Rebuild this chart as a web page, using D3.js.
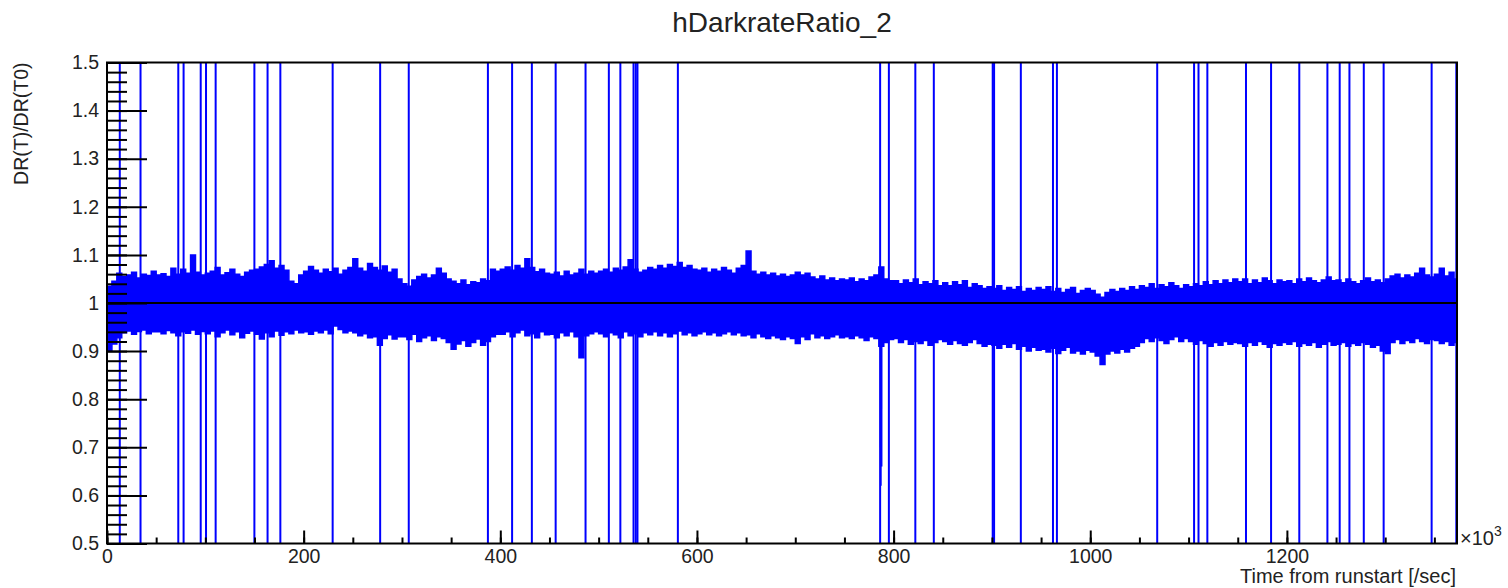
<!DOCTYPE html>
<html>
<head>
<meta charset="utf-8">
<script src="https://cdn.jsdelivr.net/npm/d3@7"></script>
<style>
  body { margin: 0; background: #fff; }
  text { font-family: "Liberation Sans", Arial, sans-serif; fill: #222; }
</style>
</head>
<body>
<svg width="1508" height="588"></svg>
<script>
// histogram range and bin width (x in units of 10^3 sec)
var xMax = 1373;
var binWidth = 5;

// upper / lower envelope of the noisy band, one value per bin
var upperEnv = [
  1.035,1.045,1.062,1.055,1.058,1.064,1.052,1.060,1.057,1.066,
  1.058,1.061,1.055,1.072,1.060,1.070,1.062,1.100,1.064,1.058,
  1.062,1.066,1.074,1.058,1.063,1.070,1.060,1.055,1.064,1.068,
  1.070,1.075,1.080,1.088,1.072,1.078,1.068,1.045,1.040,1.058,
  1.066,1.076,1.068,1.062,1.070,1.065,1.072,1.060,1.068,1.074,
  1.092,1.072,1.066,1.082,1.074,1.068,1.077,1.064,1.070,1.050,
  1.040,1.035,1.048,1.055,1.060,1.052,1.058,1.072,1.062,1.050,
  1.045,1.040,1.048,1.038,1.044,1.042,1.050,1.046,1.070,1.066,
  1.070,1.075,1.068,1.078,1.072,1.092,1.074,1.065,1.070,1.062,
  1.060,1.064,1.056,1.066,1.058,1.062,1.070,1.060,1.066,1.062,
  1.066,1.070,1.064,1.072,1.068,1.075,1.090,1.070,1.064,1.068,
  1.074,1.070,1.078,1.072,1.080,1.076,1.084,1.074,1.078,1.070,
  1.068,1.072,1.064,1.070,1.066,1.074,1.068,1.062,1.072,1.078,
  1.108,1.066,1.060,1.064,1.058,1.062,1.056,1.060,1.055,1.058,
  1.064,1.058,1.062,1.054,1.050,1.056,1.048,1.052,1.046,1.050,
  1.048,1.052,1.044,1.050,1.046,1.054,1.058,1.075,1.050,1.046,
  1.046,1.040,1.048,1.042,1.050,1.038,1.044,1.040,1.046,1.036,
  1.042,1.036,1.044,1.038,1.046,1.032,1.040,1.036,1.030,1.034,
  1.030,1.036,1.026,1.032,1.028,1.034,1.024,1.030,1.026,1.032,
  1.028,1.034,1.024,1.030,1.022,1.028,1.032,1.020,1.026,1.030,
  1.026,1.018,1.012,1.022,1.028,1.024,1.030,1.026,1.034,1.028,
  1.036,1.032,1.040,1.030,1.038,1.034,1.042,1.036,1.030,1.038,
  1.034,1.040,1.036,1.044,1.038,1.046,1.040,1.048,1.042,1.050,
  1.044,1.050,1.040,1.048,1.042,1.052,1.046,1.040,1.048,1.044,
  1.046,1.040,1.050,1.044,1.052,1.046,1.042,1.048,1.054,1.046,
  1.048,1.042,1.050,1.044,1.040,1.046,1.052,1.044,1.048,1.042,
  1.050,1.056,1.060,1.052,1.058,1.054,1.062,1.072,1.058,1.054,
  1.060,1.072,1.056,1.064,1.050
];
var lowerEnv = [
  0.900,0.915,0.928,0.938,0.942,0.935,0.941,0.944,0.936,0.940,
  0.940,0.936,0.943,0.938,0.932,0.940,0.937,0.944,0.935,0.941,
  0.936,0.942,0.930,0.938,0.944,0.934,0.940,0.928,0.937,0.942,
  0.935,0.925,0.938,0.930,0.942,0.933,0.940,0.936,0.944,0.938,
  0.940,0.935,0.942,0.938,0.944,0.936,0.952,0.945,0.938,0.942,
  0.938,0.932,0.936,0.928,0.930,0.912,0.926,0.934,0.925,0.930,
  0.930,0.924,0.935,0.920,0.928,0.932,0.922,0.930,0.926,0.918,
  0.904,0.915,0.922,0.910,0.918,0.925,0.912,0.920,0.930,0.935,
  0.935,0.940,0.930,0.938,0.944,0.932,0.936,0.928,0.940,0.934,
  0.935,0.928,0.938,0.932,0.940,0.930,0.886,0.932,0.936,0.940,
  0.936,0.930,0.938,0.934,0.928,0.940,0.932,0.936,0.930,0.938,
  0.934,0.940,0.932,0.938,0.930,0.936,0.942,0.934,0.938,0.932,
  0.936,0.940,0.934,0.938,0.932,0.936,0.940,0.934,0.938,0.932,
  0.934,0.928,0.936,0.930,0.926,0.932,0.928,0.924,0.930,0.926,
  0.916,0.930,0.924,0.936,0.928,0.932,0.926,0.930,0.934,0.928,
  0.930,0.926,0.932,0.928,0.922,0.930,0.926,0.910,0.918,0.924,
  0.926,0.918,0.924,0.914,0.920,0.916,0.922,0.912,0.918,0.924,
  0.920,0.914,0.922,0.916,0.912,0.918,0.924,0.916,0.910,0.914,
  0.912,0.906,0.914,0.908,0.916,0.904,0.910,0.900,0.908,0.902,
  0.904,0.898,0.906,0.895,0.902,0.908,0.896,0.900,0.894,0.902,
  0.898,0.890,0.872,0.894,0.900,0.896,0.904,0.898,0.906,0.910,
  0.918,0.926,0.920,0.928,0.922,0.916,0.924,0.930,0.920,0.926,
  0.920,0.914,0.922,0.916,0.910,0.918,0.912,0.920,0.914,0.918,
  0.916,0.910,0.918,0.912,0.920,0.914,0.908,0.916,0.912,0.918,
  0.914,0.920,0.910,0.916,0.912,0.918,0.908,0.914,0.920,0.912,
  0.914,0.918,0.910,0.916,0.912,0.918,0.914,0.908,0.912,0.900,
  0.895,0.918,0.924,0.916,0.922,0.918,0.926,0.920,0.916,0.924,
  0.922,0.916,0.920,0.912,0.918
];

// bins that leave the frame (dead / overflow bins)
var spikeTimes = [13.0, 34.1, 72.5, 77.9, 95.3, 100.7, 110.5, 149.9, 163.3, 176.3,
  229.5, 277.8, 306.9, 387.4, 412.0, 432.1, 456.3, 486.7, 510.4, 522.1,
  535.5, 537.8, 539.5, 580.6, 786.3, 795.2, 822.1, 840.9, 900.8, 902.2,
  929.4, 962.1, 966.1, 1068.1, 1105.6, 1110.1, 1119.1, 1158.4, 1183.9, 1212.6,
  1241.2, 1253.7, 1263.6, 1278.2, 1298.4, 1347.2, 1372.3];

// low bins near 790
var dipTimes = [786.8, 787.1, 787.5, 787.9];
var dipValues = [0.70, 0.62, 0.78, 0.66];

var xMajorTicks = [0, 200, 400, 600, 800, 1000, 1200];
var yTickLabels = ["0.5", "0.6", "0.7", "0.8", "0.9", "1", "1.1", "1.2", "1.3", "1.4", "1.5"];

var svg = d3.select("svg");
var plotL = 107, plotR = 1457, plotT = 62.5, plotB = 543.5;

var x = d3.scaleLinear().domain([0, xMax]).range([plotL, plotR]);
var y = d3.scaleLinear().domain([0.5, 1.5]).range([plotB, plotT]);

svg.append("defs").append("clipPath").attr("id", "plot")
  .append("rect")
  .attr("x", plotL).attr("y", plotT)
  .attr("width", plotR - plotL).attr("height", plotB - plotT);

var g = svg.append("g").attr("clip-path", "url(#plot)");

// band
var pts = upperEnv.map(function(u, i) {
  return { t: i * binWidth, hi: u, lo: lowerEnv[i] };
});
pts.push({ t: xMax, hi: upperEnv[upperEnv.length - 1], lo: lowerEnv[lowerEnv.length - 1] });

var band = d3.area()
  .x(function(d) { return x(d.t); })
  .y0(function(d) { return y(d.lo); })
  .y1(function(d) { return y(d.hi); })
  .curve(d3.curveStepAfter);

g.append("path")
  .datum(pts)
  .attr("d", band)
  .attr("fill", "#0000ff")
  .attr("stroke", "#0000ff")
  .attr("stroke-width", 1.5)
  .attr("stroke-linejoin", "miter");

// spikes
g.selectAll(".spike")
  .data(spikeTimes)
  .enter()
  .append("line")
  .attr("class", "spike")
  .attr("x1", function(d) { return x(d); })
  .attr("x2", function(d) { return x(d); })
  .attr("y1", y(0.5))
  .attr("y2", y(1.5))
  .attr("stroke", "#0000ff")
  .attr("stroke-width", 2);

g.selectAll(".dip")
  .data(dipTimes)
  .enter()
  .append("line")
  .attr("class", "dip")
  .attr("x1", function(d) { return x(d); })
  .attr("x2", function(d) { return x(d); })
  .attr("y1", function(d, i) { return y(dipValues[i]); })
  .attr("y2", y(0.93))
  .attr("stroke", "#0000ff")
  .attr("stroke-width", 1.5);

// reference line at 1
svg.append("line")
  .attr("x1", plotL).attr("x2", plotR)
  .attr("y1", y(1)).attr("y2", y(1))
  .attr("stroke", "#000")
  .attr("stroke-width", 2);

// frame
svg.append("rect")
  .attr("x", plotL).attr("y", plotT)
  .attr("width", plotR - plotL).attr("height", plotB - plotT)
  .attr("fill", "none")
  .attr("stroke", "#000")
  .attr("stroke-width", 2);

// x axis
var xMinor = d3.range(0, xMax + 1, 50);
svg.append("g")
  .attr("transform", "translate(0," + plotB + ")")
  .call(d3.axisBottom(x).tickValues(xMinor).tickSize(-6).tickFormat(""))
  .call(function(a) { a.select(".domain").remove(); });

svg.append("g")
  .attr("class", "xaxis")
  .attr("transform", "translate(0," + plotB + ")")
  .call(d3.axisBottom(x).tickValues(xMajorTicks).tickSize(-13).tickPadding(6).tickFormat(d3.format("d")))
  .call(function(a) { a.select(".domain").remove(); });

// y axis
var yMinor = d3.range(0, 51).map(function(i) { return 0.5 + i * 0.02; });
svg.append("g")
  .attr("transform", "translate(" + plotL + ",0)")
  .call(d3.axisLeft(y).tickValues(yMinor).tickSize(-20).tickFormat(""))
  .call(function(a) { a.select(".domain").remove(); });

svg.append("g")
  .attr("class", "yaxis")
  .attr("transform", "translate(" + plotL + ",0)")
  .call(d3.axisLeft(y).tickValues(yTickLabels.map(Number)).tickSize(-40).tickPadding(8)
    .tickFormat(function(d, i) { return yTickLabels[i]; }))
  .call(function(a) { a.select(".domain").remove(); });

svg.selectAll(".tick line").attr("stroke", "#000").attr("stroke-width", 2);
svg.selectAll(".xaxis text, .yaxis text")
  .attr("font-size", 19.5)
  .attr("font-family", "Liberation Sans, Arial, sans-serif")
  .attr("fill", "#222");

// titles
svg.append("text")
  .attr("x", (plotL + plotR) / 2)
  .attr("y", 32)
  .attr("text-anchor", "middle")
  .attr("font-size", 28)
  .text("hDarkrateRatio_2");

svg.append("text")
  .attr("x", 1456)
  .attr("y", 583)
  .attr("text-anchor", "end")
  .attr("font-size", 20)
  .text("Time from runstart [/sec]");

svg.append("text")
  .attr("transform", "translate(28," + plotT + ") rotate(-90)")
  .attr("text-anchor", "end")
  .attr("font-size", 19.5)
  .text("DR(T)/DR(T0)");

var exp = svg.append("text")
  .attr("x", 1460)
  .attr("y", 545)
  .attr("font-size", 20);
exp.append("tspan").text("×10");
exp.append("tspan").attr("dy", -9).attr("font-size", 14).text("3");
</script>
</body>
</html>
